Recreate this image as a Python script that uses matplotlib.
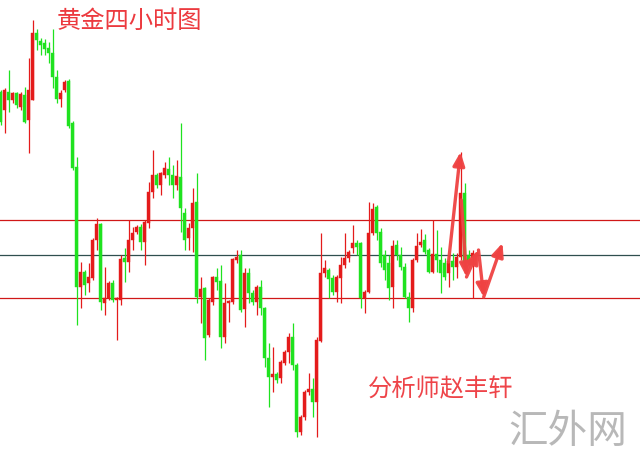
import matplotlib
matplotlib.use('Agg')
import matplotlib.pyplot as plt

plt.rcParams['font.family'] = ['Noto Sans CJK SC', 'DejaVu Sans']

# 4h gold candles
opens = [1890.8, 1889.0, 1890.8, 1890.0, 1890.7, 1889.3, 1890.5, 1888.0, 1890.0, 1896.7,
         1895.9, 1895.7, 1895.2, 1894.7, 1892.3, 1890.1, 1891.0, 1891.9, 1887.7, 1883.3,
         1871.3, 1872.8, 1871.7, 1872.2, 1876.0, 1877.6, 1869.7, 1870.2, 1871.7, 1870.0,
         1870.0, 1874.2, 1873.8, 1876.0, 1876.8, 1877.3, 1875.8, 1877.7, 1880.8, 1882.5,
         1881.5, 1882.5, 1883.1, 1882.5, 1881.5, 1882.3, 1878.7, 1876.2, 1877.2, 1879.8,
         1870.3, 1871.2, 1866.5, 1869.8, 1872.3, 1871.9, 1866.3, 1869.7, 1869.8, 1874.0,
         1874.5, 1869.1, 1872.7, 1870.7, 1869.8, 1871.3, 1869.2, 1864.2, 1862.3, 1862.6,
         1862.2, 1863.7, 1864.8, 1866.3, 1863.5, 1856.8, 1858.3, 1860.8, 1861.1, 1859.8,
         1865.9, 1872.7, 1873.0, 1872.2, 1870.8, 1872.2, 1873.5, 1874.2, 1875.2, 1875.7,
         1875.7, 1870.2, 1870.8, 1876.7, 1879.3, 1876.8, 1874.5, 1873.7, 1871.3, 1875.5,
         1874.5, 1873.3, 1870.3, 1869.2, 1874.0, 1875.5, 1876.0, 1875.0, 1872.8, 1874.6,
         1874.0, 1873.7, 1872.7, 1873.9, 1873.3, 1874.3, 1880.7, 1874.5, 1874.2]
highs = [1891.0, 1891.2, 1893.0, 1890.8, 1890.8, 1890.8, 1891.3, 1894.2, 1898.0, 1897.1,
         1896.2, 1896.1, 1895.8, 1897.1, 1893.0, 1891.0, 1892.0, 1892.1, 1887.9, 1884.3,
         1873.8, 1873.0, 1873.7, 1876.2, 1878.2, 1877.7, 1873.3, 1871.9, 1872.0, 1870.3,
         1874.5, 1875.2, 1878.0, 1877.3, 1877.5, 1877.6, 1878.0, 1881.8, 1885.0, 1882.7,
         1882.8, 1883.8, 1884.3, 1883.5, 1884.0, 1887.7, 1879.2, 1877.7, 1881.2, 1882.7,
         1872.3, 1871.3, 1870.2, 1872.4, 1873.2, 1873.5, 1871.7, 1870.0, 1874.2, 1875.0,
         1875.0, 1873.2, 1873.2, 1871.0, 1871.5, 1872.0, 1869.3, 1865.7, 1865.3, 1862.8,
         1864.0, 1865.0, 1866.7, 1867.7, 1863.7, 1858.5, 1861.0, 1862.7, 1862.2, 1866.3,
         1876.7, 1874.0, 1873.2, 1872.5, 1872.5, 1874.3, 1876.7, 1875.0, 1877.5, 1876.0,
         1875.8, 1871.0, 1879.8, 1879.7, 1879.5, 1877.2, 1875.0, 1874.5, 1876.0, 1876.0,
         1875.3, 1873.7, 1870.8, 1874.2, 1876.7, 1877.1, 1876.6, 1875.2, 1878.0, 1877.0,
         1875.3, 1874.2, 1874.5, 1874.7, 1874.7, 1884.8, 1881.7, 1875.0, 1875.0]
lows = [1887.5, 1886.7, 1888.8, 1889.7, 1889.2, 1889.0, 1887.7, 1884.7, 1890.0, 1895.0,
        1894.5, 1894.5, 1893.7, 1891.2, 1889.7, 1889.3, 1890.8, 1887.2, 1883.0, 1867.5,
        1869.2, 1870.5, 1870.8, 1872.0, 1875.0, 1869.0, 1868.5, 1870.0, 1869.8, 1866.0,
        1869.5, 1871.8, 1872.8, 1875.0, 1876.6, 1875.0, 1873.5, 1877.2, 1880.2, 1881.2,
        1880.5, 1882.2, 1881.5, 1880.2, 1881.0, 1876.8, 1875.0, 1875.0, 1874.8, 1869.7,
        1867.7, 1864.0, 1866.3, 1869.5, 1871.0, 1865.2, 1865.7, 1867.8, 1869.6, 1873.7,
        1868.8, 1867.3, 1869.7, 1869.5, 1868.5, 1868.5, 1863.3, 1859.3, 1860.8, 1861.7,
        1861.7, 1863.5, 1863.7, 1863.0, 1856.3, 1856.5, 1858.0, 1860.5, 1858.3, 1856.3,
        1865.8, 1872.3, 1870.2, 1870.5, 1869.8, 1869.7, 1873.2, 1873.8, 1874.7, 1874.5,
        1869.2, 1868.7, 1870.7, 1876.5, 1876.0, 1873.3, 1872.0, 1870.0, 1869.2, 1874.0,
        1873.0, 1870.2, 1867.8, 1868.8, 1873.8, 1875.3, 1874.6, 1872.7, 1872.7, 1872.8,
        1870.7, 1872.0, 1871.3, 1872.0, 1872.2, 1874.0, 1873.2, 1873.5, 1870.2]
closes = [1887.8, 1891.0, 1890.0, 1890.7, 1889.5, 1890.6, 1887.8, 1891.0, 1896.7, 1896.0,
          1895.5, 1895.1, 1894.7, 1892.3, 1890.1, 1890.7, 1891.8, 1887.4, 1883.2, 1871.3,
          1872.8, 1871.5, 1872.3, 1876.0, 1877.6, 1869.8, 1870.2, 1871.7, 1870.0, 1870.2,
          1874.1, 1873.8, 1876.0, 1876.7, 1877.3, 1875.8, 1877.8, 1880.8, 1882.5, 1881.5,
          1882.7, 1883.2, 1882.5, 1881.5, 1882.4, 1879.2, 1876.0, 1877.2, 1879.7, 1870.3,
          1871.1, 1866.2, 1870.0, 1872.3, 1871.8, 1866.3, 1869.7, 1869.8, 1874.1, 1874.3,
          1869.0, 1872.7, 1870.7, 1869.8, 1871.3, 1869.2, 1864.2, 1862.3, 1862.6, 1862.0,
          1863.8, 1864.8, 1866.3, 1863.5, 1856.8, 1858.3, 1860.8, 1861.1, 1859.8, 1866.0,
          1872.7, 1873.2, 1872.1, 1870.8, 1872.3, 1873.5, 1874.2, 1874.8, 1875.7, 1875.3,
          1870.2, 1870.8, 1876.7, 1879.1, 1876.7, 1873.7, 1873.0, 1871.2, 1875.4, 1874.5,
          1873.3, 1870.3, 1869.2, 1874.0, 1875.4, 1875.8, 1874.8, 1872.8, 1874.6, 1874.0,
          1872.7, 1872.3, 1873.9, 1873.3, 1874.3, 1880.7, 1873.7, 1873.8, 1874.7]

resistance = 1878.0
pivot = 1874.5
support = 1870.2

# hand-drawn forecast arrows (candle index, price)
arrows = [((112.0, 1873.8), (115.0, 1884.8)),
          ((115.2, 1880.0), (116.5, 1872.3)),
          ((116.5, 1872.3), (119.5, 1875.0)),
          ((119.5, 1875.0), (120.8, 1870.3)),
          ((120.8, 1870.3), (125.5, 1875.7))]

UP = '#e41b1b'
DOWN = '#1fe21f'

fig = plt.figure(figsize=(6.4, 4.61), dpi=100)
ax = fig.add_axes([0, 0, 1, 1])
ax.set_axis_off()
ax.set_xlim(-0.125, 159.875)
ax.set_ylim(1900 - 46.1, 1900)

for i in range(len(opens)):
    o, h, l, c = opens[i], highs[i], lows[i], closes[i]
    col = UP if c >= o else DOWN
    ax.vlines(i, l, h, color=col, lw=0.9, zorder=2)
    ax.bar(i, max(abs(c - o), 0.15), bottom=min(o, c), width=0.72,
           color=col, edgecolor=col, lw=0.3, zorder=3)

ax.axhline(resistance, color='#d01818', lw=0.9, zorder=1)
ax.axhline(support, color='#d01818', lw=0.9, zorder=1)
ax.axhline(pivot, color='#2f4f4f', lw=0.9, zorder=1)

for start, end in arrows:
    ax.annotate('', xy=end, xytext=start,
                arrowprops=dict(arrowstyle='-|>,head_length=0.8,head_width=0.35',
                                lw=2.4, color='#ef4242', alpha=0.95,
                                shrinkA=0, shrinkB=0), zorder=5)

fig.text(57 / 640, 1 - 21 / 461, '黄金四小时图', color='#ec3a3f',
         fontsize=17.5, va='center', ha='left')
fig.text(368 / 640, 1 - 389 / 461, '分析师赵丰轩', color='#ee4449',
         fontsize=17.5, va='center', ha='left')
fig.text(508 / 640, 1 - 432 / 461, '汇外网', color='#b8b8b8',
         fontsize=28.5, va='center', ha='left', fontweight='light')

fig.savefig('out.png', dpi=100)
